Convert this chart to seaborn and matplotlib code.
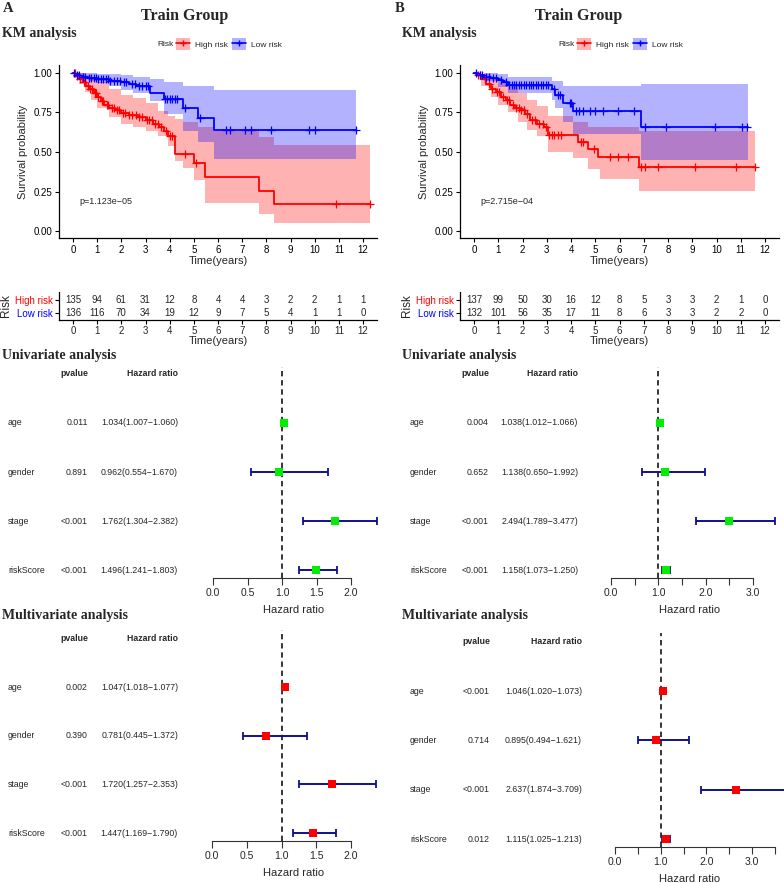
import numpy as np
import pandas as pd
import seaborn as sns
import matplotlib
matplotlib.use("Agg")
import matplotlib.pyplot as plt
import matplotlib.transforms as mtrans
from matplotlib.patches import Patch
from matplotlib.lines import Line2D
from matplotlib.legend_handler import HandlerTuple

# ------------------------------------------------------------------ data
# KM panel A (train group, left)
A_high_t = [0, 0.1, 0.25, 0.4, 0.55, 0.7, 0.85, 1.0, 1.15, 1.3, 1.5, 1.75, 2.0, 2.3, 2.7, 3.0, 3.3, 3.55, 3.75, 3.95, 4.2, 5.0, 5.45, 7.7, 8.3, 12.3]
A_high_s = [1.0, 0.98, 0.96, 0.94, 0.92, 0.90, 0.87, 0.845, 0.82, 0.80, 0.78, 0.765, 0.745, 0.735, 0.72, 0.70, 0.68, 0.66, 0.635, 0.60, 0.49, 0.43, 0.34, 0.255, 0.17, 0.17]
A_high_ci_t = [0, 0.25, 0.5, 0.75, 1.0, 1.5, 2.0, 2.5, 3.0, 3.5, 3.95, 4.2, 4.56, 5.0, 5.18, 5.45, 5.83, 7.7, 8.3, 12.3]
A_high_hi = [1.0, 1.0, 0.985, 0.965, 0.94, 0.90, 0.86, 0.84, 0.81, 0.76, 0.73, 0.71, 0.69, 0.69, 0.66, 0.66, 0.63, 0.595, 0.542, 0.542]
A_high_lo = [1.0, 0.93, 0.88, 0.83, 0.78, 0.72, 0.68, 0.66, 0.63, 0.60, 0.54, 0.44, 0.40, 0.32, 0.32, 0.18, 0.18, 0.11, 0.053, 0.053]
A_high_cens = [0.08, 0.15, 0.3, 0.45, 0.6, 0.7, 0.8, 0.9, 0.95, 1.05, 1.2, 1.25, 1.4, 1.45, 1.6, 1.7, 1.8, 1.9, 2.05, 2.15, 2.3, 2.45, 2.6, 2.75, 2.85, 3.05, 3.15, 3.25, 3.4, 3.5, 3.65, 3.85, 4.0, 4.1, 4.65, 5.1, 10.9, 12.3]

A_low_t = [0, 0.1, 0.3, 0.6, 1.0, 1.5, 2.0, 2.3, 2.6, 3.18, 3.76, 4.56, 5.18, 5.83, 11.7]
A_low_s = [1.0, 0.985, 0.975, 0.97, 0.96, 0.95, 0.94, 0.93, 0.915, 0.875, 0.835, 0.78, 0.715, 0.64, 0.64]
A_low_ci_t = [0, 0.3, 0.7, 1.0, 1.5, 2.0, 2.5, 3.18, 3.76, 4.56, 5.18, 5.83, 11.7]
A_low_hi = [1.0, 1.0, 1.0, 0.995, 0.99, 0.985, 0.975, 0.96, 0.945, 0.92, 0.92, 0.893, 0.893]
A_low_lo = [1.0, 0.96, 0.95, 0.935, 0.915, 0.895, 0.87, 0.82, 0.74, 0.63, 0.56, 0.455, 0.455]
A_low_cens = [0.05, 0.15, 0.25, 0.4, 0.5, 0.65, 0.75, 0.85, 0.95, 1.05, 1.15, 1.25, 1.35, 1.45, 1.55, 1.7, 1.8, 1.95, 2.1, 2.2, 2.45, 2.55, 2.75, 2.85, 3.0, 3.1, 3.8, 3.9, 4.0, 4.1, 4.2, 4.3, 4.65, 5.25, 6.35, 6.5, 7.1, 7.35, 8.2, 9.75, 10.0, 11.7]
A_pval = "p=1.123e\u221205"

# KM panel B (train group, right)
B_high_t = [0, 0.1, 0.3, 0.5, 0.7, 0.9, 1.1, 1.3, 1.5, 1.7, 1.9, 2.1, 2.3, 2.6, 2.9, 3.05, 4.3, 4.7, 5.1, 6.8, 11.6]
B_high_s = [1.0, 0.985, 0.96, 0.93, 0.90, 0.88, 0.85, 0.83, 0.80, 0.775, 0.765, 0.74, 0.70, 0.68, 0.66, 0.605, 0.565, 0.52, 0.47, 0.405, 0.405]
B_high_ci_t = [0, 0.3, 0.7, 1.0, 1.4, 1.8, 2.2, 2.6, 3.05, 4.1, 4.7, 5.2, 6.8, 11.6]
B_high_hi = [1.0, 0.995, 0.97, 0.94, 0.91, 0.87, 0.83, 0.79, 0.725, 0.69, 0.655, 0.655, 0.633, 0.633]
B_high_lo = [1.0, 0.92, 0.85, 0.80, 0.75, 0.69, 0.64, 0.60, 0.50, 0.46, 0.39, 0.33, 0.255, 0.255]
B_high_cens = [0.15, 0.25, 0.45, 0.6, 0.75, 0.95, 1.05, 1.2, 1.35, 1.45, 1.6, 1.75, 1.85, 1.95, 2.05, 2.2, 2.4, 2.5, 2.7, 2.85, 2.95, 3.1, 3.2, 3.3, 3.45, 3.6, 4.4, 4.5, 4.95, 5.6, 5.95, 6.35, 6.9, 7.05, 7.6, 9.1, 10.8, 11.6]

B_low_t = [0, 0.15, 0.4, 0.7, 1.0, 1.2, 1.4, 3.2, 3.35, 3.65, 4.1, 6.9, 11.3]
B_low_s = [1.0, 0.985, 0.975, 0.965, 0.955, 0.94, 0.925, 0.90, 0.86, 0.81, 0.76, 0.655, 0.655]
B_low_ci_t = [0, 0.4, 1.0, 1.4, 3.2, 3.35, 3.65, 4.1, 6.9, 11.3]
B_low_hi = [1.0, 1.0, 0.99, 0.975, 0.947, 0.947, 0.92, 0.92, 0.93, 0.93]
B_low_lo = [1.0, 0.95, 0.91, 0.875, 0.83, 0.78, 0.69, 0.615, 0.449, 0.449]
B_low_cens = [0.1, 0.25, 0.35, 0.5, 0.6, 0.8, 0.9, 1.1, 1.3, 1.45, 1.55, 1.65, 1.75, 1.85, 1.95, 2.05, 2.15, 2.25, 2.35, 2.45, 2.55, 2.65, 2.75, 2.85, 2.95, 3.05, 3.3, 3.45, 3.55, 3.95, 4.0, 4.2, 4.35, 4.5, 4.8, 5.0, 5.3, 5.95, 6.6, 7.05, 7.9, 9.95, 11.05, 11.25]
B_pval = "p=2.715e\u221204"

# number at risk
risk_times = list(range(13))
A_high_n = [135, 94, 61, 31, 12, 8, 4, 4, 3, 2, 2, 1, 1]
A_low_n = [136, 116, 70, 34, 19, 12, 9, 7, 5, 4, 1, 1, 0]
B_high_n = [137, 99, 50, 30, 16, 12, 8, 5, 3, 3, 2, 1, 0]
B_low_n = [132, 101, 56, 35, 17, 11, 8, 6, 3, 3, 2, 2, 0]

# Cox regression
variables = ["age", "gender", "stage", "riskScore"]
A_uni_p = ["0.011", "0.891", "<0.001", "<0.001"]
A_uni_hr = [1.034, 0.962, 1.762, 1.496]
A_uni_lo = [1.007, 0.554, 1.304, 1.241]
A_uni_hi = [1.060, 1.670, 2.382, 1.803]
A_multi_p = ["0.002", "0.390", "<0.001", "<0.001"]
A_multi_hr = [1.047, 0.781, 1.720, 1.447]
A_multi_lo = [1.018, 0.445, 1.257, 1.169]
A_multi_hi = [1.077, 1.372, 2.353, 1.790]
B_uni_p = ["0.004", "0.652", "<0.001", "<0.001"]
B_uni_hr = [1.038, 1.138, 2.494, 1.158]
B_uni_lo = [1.012, 0.650, 1.789, 1.073]
B_uni_hi = [1.066, 1.992, 3.477, 1.250]
B_multi_p = ["<0.001", "0.714", "<0.001", "0.012"]
B_multi_hr = [1.046, 0.895, 2.637, 1.115]
B_multi_lo = [1.020, 0.494, 1.874, 1.025]
B_multi_hi = [1.073, 1.621, 3.709, 1.213]

# ------------------------------------------------------------------ style
W, H = 784, 883
sns.set_theme(style="white")
plt.rcParams["font.family"] = ["Liberation Sans", "DejaVu Sans"]
SERIF = ["Liberation Serif", "DejaVu Serif"]
RED, BLUE = "#FF0000", "#0000FF"
RED_FILL, BLUE_FILL = "#FF0000", "#0000FF"

fig = plt.figure(figsize=(W / 100, H / 100), dpi=100)


def px_axes(l, t, r, b):
    return fig.add_axes([l / W, 1 - b / H, (r - l) / W, (b - t) / H])


def ftext(x, y, s, **kw):
    fig.text(x / W, 1 - y / H, s, **kw)


def step_at(t_arr, s_arr, t):
    idx = np.searchsorted(np.asarray(t_arr), np.asarray(t), side="right") - 1
    return np.asarray(s_arr)[idx]


def draw_km(ax, groups, x0px, x12px, lpx, rpx, pval):
    for g in groups:
        ax.fill_between(g["ci_t"], g["lo"], g["hi"], step="post",
                        color=g["color"], alpha=0.3, lw=0)
    for g in groups:
        df = pd.DataFrame({"t": g["t"], "s": g["s"]})
        sns.lineplot(data=df, x="t", y="s", ax=ax, color=g["color"],
                     drawstyle="steps-post", lw=1.3, estimator=None, sort=False)
        cens = pd.DataFrame({"t": g["cens"], "s": step_at(g["t"], g["s"], g["cens"])})
        sns.scatterplot(data=cens, x="t", y="s", ax=ax, marker="+", s=28,
                        color=g["color"], linewidth=0.9, zorder=4)
    ppy = (x12px - x0px) / 12
    ax.set_xlim((lpx - x0px) / ppy, (rpx - x0px) / ppy)
    ax.set_ylim(-0.044, 1.05)
    ax.set_xticks(risk_times)
    ax.set_yticks([0, 0.25, 0.5, 0.75, 1.0])
    ax.set_yticklabels(["0.00", "0.25", "0.50", "0.75", "1.00"])
    ax.tick_params(axis="both", labelsize=7, length=3, width=0.8, color="black",
                   direction="out", bottom=True, left=True, pad=2, labelcolor="black")
    for sp in ["top", "right"]:
        ax.spines[sp].set_visible(False)
    for sp in ["left", "bottom"]:
        ax.spines[sp].set_color("black")
        ax.spines[sp].set_linewidth(0.9)
    ax.set_xlabel("Time(years)", fontsize=8, labelpad=1)
    ax.set_ylabel("Survival probability", fontsize=8, labelpad=4)
    ax.text(0.25, 0.185, pval, fontsize=6.5, ha="left", va="center")


def draw_table(ax, high, low, x0px, x12px, lpx, rpx):
    ppy = (x12px - x0px) / 12
    for t, h, l in zip(risk_times, high, low):
        ax.text(t, 1, str(h), ha="center", va="center", fontsize=7)
        ax.text(t, 0, str(l), ha="center", va="center", fontsize=7)
    ax.set_xlim((lpx - x0px) / ppy, (rpx - x0px) / ppy)
    ax.set_ylim(-0.55, 1.6)
    ax.set_xticks(risk_times)
    ax.set_yticks([1, 0])
    ax.set_yticklabels(["High risk", "Low risk"])
    for lab, c in zip(ax.get_yticklabels(), [RED, BLUE]):
        lab.set_color(c)
    ax.tick_params(axis="both", labelsize=7, length=3, width=0.8, color="black",
                   direction="out", bottom=True, left=True, pad=1.5)
    for sp in ["top", "right"]:
        ax.spines[sp].set_visible(False)
    for sp in ["left", "bottom"]:
        ax.spines[sp].set_color("black")
        ax.spines[sp].set_linewidth(0.9)
    ax.set_xlabel("Time(years)", fontsize=8, labelpad=0)
    ax.set_ylabel("Risk", fontsize=8.5, labelpad=2)


def draw_forest(ax, hr, lo, hi, pv, color, x0px, ppu, lpx, rpx, ticks, labels,
                bound, top_rows, lab_x, p_x, hr_x):
    hr, lo, hi = map(np.asarray, (hr, lo, hi))
    y = np.arange(len(hr))
    ax.axvline(1, color="black", ls=(0, (3.5, 2.5)), lw=1.1, zorder=1)
    ax.errorbar(hr, y, xerr=[hr - lo, hi - hr], fmt="none", ecolor="#10108a",
                elinewidth=1.4, capsize=3, capthick=1.3, zorder=2)
    df = pd.DataFrame({"hr": hr, "y": y})
    sns.scatterplot(data=df, x="hr", y="y", ax=ax, marker="s", s=36,
                    color=color, edgecolor=color, linewidth=0, zorder=3)
    ax.set_xlim((lpx - x0px) / ppu, (rpx - x0px) / ppu)
    ax.set_ylim(3.16, -top_rows)
    ax.set_yticks([])
    ax.set_xticks(ticks)
    ax.set_xticklabels(labels)
    ax.tick_params(axis="x", labelsize=7.5, length=5, width=0.8, color="#333333",
                   direction="out", bottom=True, pad=2)
    for sp in ["top", "right", "left"]:
        ax.spines[sp].set_visible(False)
    ax.spines["bottom"].set_bounds(ticks[0], bound)
    ax.spines["bottom"].set_color("#333333")
    ax.spines["bottom"].set_linewidth(0.8)
    ax.set_xlabel("Hazard ratio", fontsize=8, labelpad=5)
    ax.set_ylabel("")
    tr = mtrans.blended_transform_factory(fig.transFigure, ax.transData)
    ax.text(p_x / W, -1, "pvalue", transform=tr, ha="right", va="center",
            fontsize=6.3, fontweight="bold")
    ax.text(hr_x / W, -1, "Hazard ratio", transform=tr, ha="right", va="center",
            fontsize=6.3, fontweight="bold")
    for i, v in enumerate(variables):
        ax.text(lab_x / W, i, v, transform=tr, ha="left", va="center", fontsize=6.3)
        ax.text(p_x / W, i, pv[i], transform=tr, ha="right", va="center", fontsize=6.3)
        ax.text(hr_x / W, i, f"{hr[i]:.3f}({lo[i]:.3f}\u2212{hi[i]:.3f})",
                transform=tr, ha="right", va="center", fontsize=6.3)


# ------------------------------------------------------------------ titles
for off, letter, tg_x in [(0, "A", 185), (392, "B", 579)]:
    ftext(off + 3, 9, letter, fontsize=10.5, fontweight="bold", family=SERIF,
          ha="left", va="center")
    ftext(tg_x, 16, "Train Group", fontsize=11.5, fontweight="bold", family=SERIF,
          ha="center", va="center")
    ftext(off + (2 if off == 0 else 10), 33, "KM analysis", fontsize=10,
          fontweight="bold", family=SERIF, ha="left", va="center")
    ftext(off + (2 if off == 0 else 10), 355, "Univariate analysis", fontsize=10,
          fontweight="bold", family=SERIF, ha="left", va="center")
    ftext(off + (2 if off == 0 else 10), 615, "Multivariate analysis", fontsize=10,
          fontweight="bold", family=SERIF, ha="left", va="center")

# legends
for risk_x, key_x in [(157, 176), (558, 577)]:
    ftext(risk_x, 44, "Risk", fontsize=6, ha="left", va="center")
    handles = [
        (Patch(facecolor=RED_FILL, alpha=0.3, lw=0),
         Line2D([], [], color=RED, lw=1.2, marker="+", markersize=5)),
        (Patch(facecolor=BLUE_FILL, alpha=0.3, lw=0),
         Line2D([], [], color=BLUE, lw=1.2, marker="+", markersize=5)),
    ]
    fig.legend(handles=handles, labels=["High risk", "Low risk"], ncol=2,
               loc="center left", bbox_to_anchor=(key_x / W, 1 - 44 / H),
               frameon=False, fontsize=6, handlelength=1.7, handleheight=1.7,
               handletextpad=0.6, columnspacing=0.45, borderpad=0,
               borderaxespad=0, handler_map={tuple: HandlerTuple(ndivide=1, pad=0)})

# ------------------------------------------------------------------ KM panels
axA = px_axes(59, 65, 377, 238)
draw_km(axA, [
    dict(t=A_high_t, s=A_high_s, ci_t=A_high_ci_t, lo=A_high_lo, hi=A_high_hi,
         cens=A_high_cens, color=RED),
    dict(t=A_low_t, s=A_low_s, ci_t=A_low_ci_t, lo=A_low_lo, hi=A_low_hi,
         cens=A_low_cens, color=BLUE),
], 73, 363, 59, 377, A_pval)

axB = px_axes(460, 65, 779, 238)
draw_km(axB, [
    dict(t=B_high_t, s=B_high_s, ci_t=B_high_ci_t, lo=B_high_lo, hi=B_high_hi,
         cens=B_high_cens, color=RED),
    dict(t=B_low_t, s=B_low_s, ci_t=B_low_ci_t, lo=B_low_lo, hi=B_low_hi,
         cens=B_low_cens, color=BLUE),
], 474, 765, 460, 779, B_pval)

tA = px_axes(59, 292, 377, 320)
draw_table(tA, A_high_n, A_low_n, 73, 363, 59, 377)
tB = px_axes(460, 292, 779, 320)
draw_table(tB, B_high_n, B_low_n, 474, 765, 460, 779)

# ------------------------------------------------------------------ forest plots
tA_ticks = [0, 0.5, 1.0, 1.5, 2.0]
tA_labels = ["0.0", "0.5", "1.0", "1.5", "2.0"]
tB_ticks = [0, 0.5, 1.0, 1.5, 2.0, 2.5, 3.0, 3.5]
tB_labels = ["0.0", "", "1.0", "", "2.0", "", "3.0", ""]

f1 = px_axes(195, 367, 392, 578)
draw_forest(f1, A_uni_hr, A_uni_lo, A_uni_hi, A_uni_p, "#00EE00", 213, 69, 195, 392,
            tA_ticks, tA_labels, 2.0, 1.14, 8, 88, 178)
f2 = px_axes(195, 630, 392, 841)
draw_forest(f2, A_multi_hr, A_multi_lo, A_multi_hi, A_multi_p, RED, 212, 69.5, 195, 392,
            tA_ticks, tA_labels, 2.0, 1.17, 8, 88, 178)
f3 = px_axes(595, 367, 784, 578)
draw_forest(f3, B_uni_hr, B_uni_lo, B_uni_hi, B_uni_p, "#00EE00", 611, 47.3, 595, 784,
            tB_ticks[:7], tB_labels[:7], 3.0, 1.14, 410, 489, 578)
f4 = px_axes(595, 633, 784, 847)
draw_forest(f4, B_multi_hr, B_multi_lo, B_multi_hi, B_multi_p, RED, 615, 45.7, 595, 784,
            tB_ticks, tB_labels, 3.5, 1.18, 410, 490, 582)

fig.savefig("out.png", dpi=100, facecolor="white")
